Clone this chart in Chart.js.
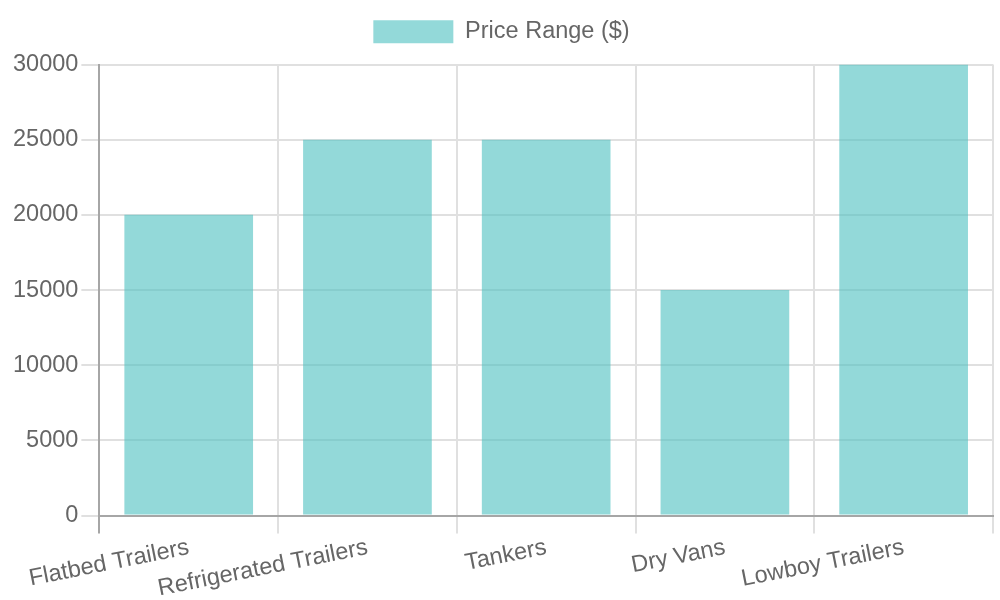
<!DOCTYPE html>
<html>
<head>
<meta charset="utf-8">
<script src="https://cdn.jsdelivr.net/npm/chart.js@4"></script>
<style>
  html, body { margin: 0; padding: 0; background: #fff; }
  #wrap { width: 1000px; height: 600px; }
</style>
</head>
<body>
<div id="wrap"><canvas id="priceChart"></canvas></div>
<script>
var trailerTypes = ["Flatbed Trailers", "Refrigerated Trailers", "Tankers", "Dry Vans", "Lowboy Trailers"];
var priceValues = [20000, 25000, 25000, 15000, 30000];
var seriesLabel = "Price Range ($)";

Chart.defaults.font.family = "'Liberation Sans', Arial, sans-serif";
Chart.defaults.font.size = 23.5;
Chart.defaults.color = '#666';

var gridColor = '#e0e0e0';
var axisColor = '#a6a6a6';

// a bit more room under the legend
var legendGap = {
    id: 'legendGap',
    beforeInit: function (chart) {
        var fit = chart.legend.fit;
        chart.legend.fit = function () {
            fit.bind(chart.legend)();
            this.height += 11;
        };
    }
};

var priceChart = document.getElementById("priceChart");

new Chart(priceChart, {
    type: 'bar',
    data: {
        labels: trailerTypes,
        datasets: [{
            label: seriesLabel,
            data: priceValues,
            backgroundColor: 'rgba(75, 192, 192, 0.6)',
            borderWidth: 0
        }]
    },
    options: {
        responsive: true,
        maintainAspectRatio: false,
        animation: false,
        layout: {
            padding: { left: 10, right: 7, top: 10, bottom: -3 }
        },
        plugins: {
            legend: {
                labels: { boxWidth: 80, boxHeight: 23, padding: 10 }
            }
        },
        scales: {
            x: {
                grid: {
                    color: function (ctx) { return ctx.index === 0 ? axisColor : gridColor; },
                    lineWidth: 2,
                    tickLength: 18
                },
                border: { color: axisColor, width: 2 },
                ticks: { padding: 0 }
            },
            y: {
                beginAtZero: true,
                max: 30000,
                grid: {
                    color: gridColor,
                    lineWidth: 2,
                    tickLength: 18
                },
                border: { color: axisColor, width: 2 },
                ticks: {
                    stepSize: 5000,
                    callback: function (value) { return String(value); }
                }
            }
        }
    },
    plugins: [legendGap]
});
</script>
</body>
</html>
